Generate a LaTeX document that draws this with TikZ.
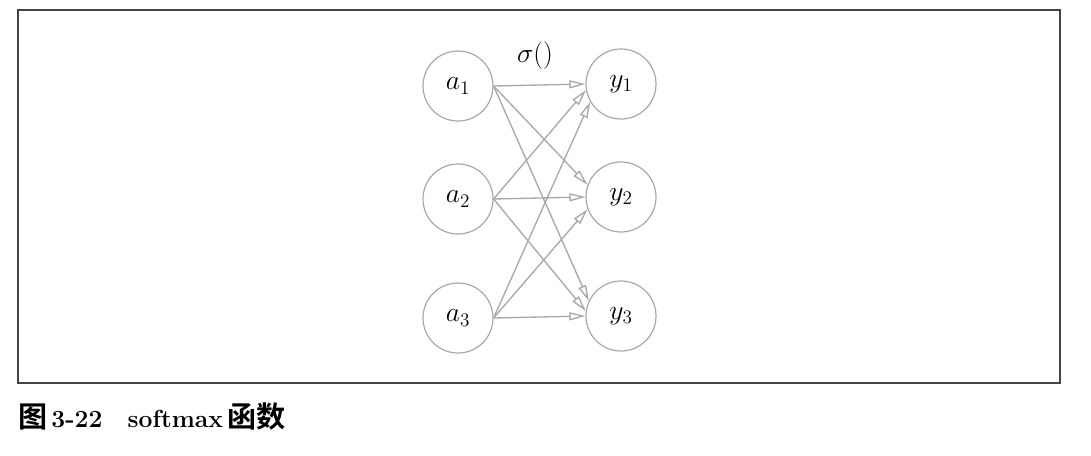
\documentclass[tikz,border=0pt]{standalone}
\usepackage{fontspec}
\newfontfamily\cjkfont{Noto Sans CJK SC}[BoldFont={* Bold}, Scale=1.18]
\usepackage{tikz}
\usetikzlibrary{arrows.meta, positioning}
\definecolor{edge}{HTML}{A8A8A8}
\definecolor{frame}{HTML}{444444}

\begin{document}
\begin{tikzpicture}[x=0.75pt, y=-0.75pt,
    neuron/.style={circle, draw=edge, line width=0.9pt, minimum size=52.5pt, inner sep=0pt, font=\fontsize{20}{24}\selectfont},
    conn/.style={draw=edge, line width=1pt, -{Triangle[open, length=12pt, width=6pt]}}]
    \useasboundingbox (0,0) rectangle (1091,455);
    % frame
    \draw[frame, line width=1pt] (18,10) rectangle (1060,383);

    % inputs
    \node[neuron] (a1) at (458,86) {$a_{\scriptstyle 1}$};
    \node[neuron] (a2) at (458,199) {$a_{\scriptstyle 2}$};
    \node[neuron] (a3) at (458,318) {$a_{\scriptstyle 3}$};

    % outputs
    \node[neuron] (y1) at (621,84) {$y_{\scriptstyle 1}$};
    \node[neuron] (y2) at (621,197) {$y_{\scriptstyle 2}$};
    \node[neuron] (y3) at (621,316) {$y_{\scriptstyle 3}$};

    \node[font=\fontsize{20}{24}\selectfont] (sig) at (535,56) {$\sigma()$};

    % connections
    \draw[conn] (a1.east) -- (y1.west);
    \draw[conn] (a1.east) -- (y2.160);
    \draw[conn] (a1.east) -- (y3.155);
    \draw[conn] (a2.east) -- (y1.190);
    \draw[conn] (a2.east) -- (y2.west);
    \draw[conn] (a2.east) -- (y3.172);
    \draw[conn] (a3.east) -- (y1.210);
    \draw[conn] (a3.east) -- (y2.200);
    \draw[conn] (a3.east) -- (y3.west);

    % caption
    \node[anchor=base west, inner sep=0pt, font=\fontsize{18.5}{22}\selectfont\bfseries] (cap) at (18,427)
        {{\cjkfont 图}\,3-22\hspace{19pt}softmax\,{\cjkfont 函数}};
\end{tikzpicture}
\end{document}
